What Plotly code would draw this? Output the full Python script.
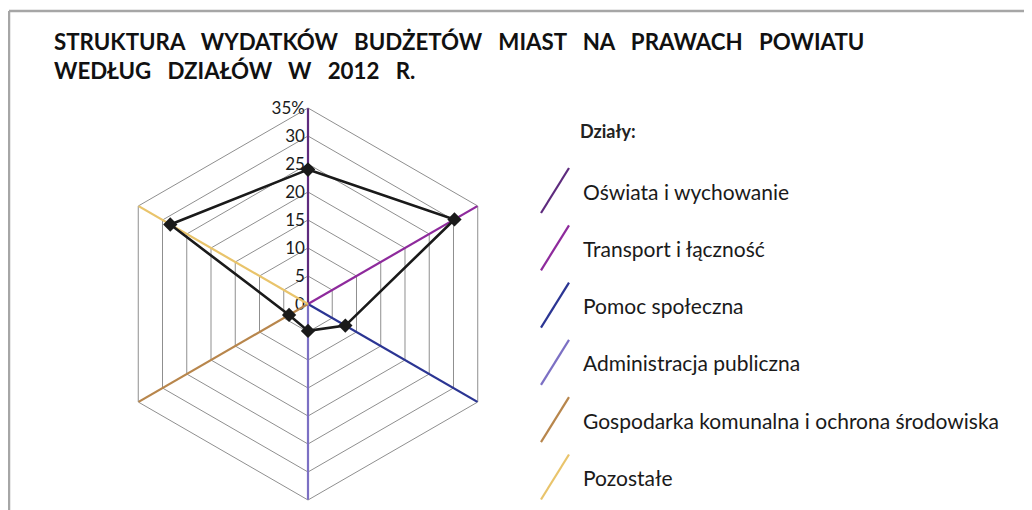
import plotly.graph_objects as go

categories = ["Oświata i wychowanie", "Transport i łączność", "Pomoc społeczna",
              "Administracja publiczna", "Gospodarka komunalna i ochrona środowiska", "Pozostałe"]
values = [24.0, 30.2, 7.7, 4.8, 3.9, 28.4]
colors = ["#5e2b7e", "#8e2a9c", "#2b3593", "#7c70c4", "#b8864c", "#e9c46b"]
tick_vals = [0, 5, 10, 15, 20, 25, 30, 35]
tick_text = ["0", "5", "10", "15", "20", "25", "30", "35%"]
title_lines = ["STRUKTURA WYDATKÓW BUDŻETÓW MIAST NA PRAWACH POWIATU",
               "WEDŁUG DZIAŁÓW W 2012 R."]
legend_title = "Działy:"

FONT = "Lato"
# page body has an 8px margin: figure spans 1024x502 from (8, 8) of the window
OX, OY = 8, 8
W, H = 1024, 502


def px(X):
    return (X - OX) / W


def py(Y):
    return 1 - (Y - OY) / H


cx, cy, R = 308, 304, 196

fig = go.Figure()

# coloured spokes
for cat, col in zip(categories, colors):
    fig.add_trace(go.Scatterpolar(r=[0, tick_vals[-1]], theta=[cat, cat], mode="lines",
                                  line=dict(color=col, width=2.2), showlegend=False,
                                  hoverinfo="skip"))

# data line
fig.add_trace(go.Scatterpolar(r=values + values[:1], theta=categories + categories[:1],
                              mode="lines+markers",
                              line=dict(color="#1a1a1a", width=2.6),
                              marker=dict(symbol="diamond", size=11, color="#1a1a1a"),
                              showlegend=False))

fig.update_layout(
    width=W, height=H,
    margin=dict(l=0, r=0, t=0, b=0),
    paper_bgcolor="white",
    font=dict(family=FONT, color="#1a1a1a"),
    polar=dict(
        domain=dict(x=[px(cx - R), px(cx + R)], y=[py(cy + R), py(cy - R)]),
        gridshape="linear",
        bgcolor="white",
        radialaxis=dict(range=[0, 35], tickvals=tick_vals, ticktext=tick_text,
                        angle=90, tickangle=90, side="counterclockwise",
                        showline=False, gridcolor="#8f8f8f", gridwidth=1,
                        ticks="", tickfont=dict(size=17, family=FONT, color="#1a1a1a"),
                        layer="below traces"),
        angularaxis=dict(type="category", direction="clockwise", rotation=90,
                         showgrid=False, showticklabels=False, ticks="",
                         showline=True, linecolor="#8f8f8f", linewidth=1,
                         layer="below traces"),
    ),
)

# frame (top and left edges)
fig.add_shape(type="line", xref="paper", yref="paper", x0=px(9), x1=1.05, y0=py(11), y1=py(11),
              line=dict(color="#a6a6a6", width=2.5))
fig.add_shape(type="line", xref="paper", yref="paper", x0=px(9), x1=px(9), y0=py(11), y1=-0.05,
              line=dict(color="#a6a6a6", width=2.5))

# title (wide word spacing kept with non-breaking spaces)
sp = "\u00a0\u00a0\u00a0"
title_text = "<br>".join(sp.join(line.split(" ")) for line in title_lines)
fig.add_annotation(text=title_text, xref="paper", yref="paper", x=px(52), y=py(26),
                   xanchor="left", yanchor="top", align="left", showarrow=False,
                   font=dict(size=22.3, family=FONT, color="#111111", weight="bold"))

# legend
fig.add_annotation(text="<b>" + legend_title + "</b>", xref="paper", yref="paper",
                   x=px(578), y=py(131), xanchor="left", yanchor="middle", showarrow=False,
                   font=dict(size=18, family=FONT, color="#222222"))
y0 = 191
step = 57.3
for i, (cat, col) in enumerate(zip(categories, colors)):
    yc = y0 + i * step
    fig.add_shape(type="line", xref="paper", yref="paper",
                  x0=px(541), y0=py(yc + 22), x1=px(569), y1=py(yc - 23),
                  line=dict(color=col, width=2.2))
    fig.add_annotation(text=cat, xref="paper", yref="paper", x=px(581), y=py(yc),
                       xanchor="left", yanchor="middle", showarrow=False,
                       font=dict(size=21, family=FONT, color="#1a1a1a"))

fig.write_html("out.html")
